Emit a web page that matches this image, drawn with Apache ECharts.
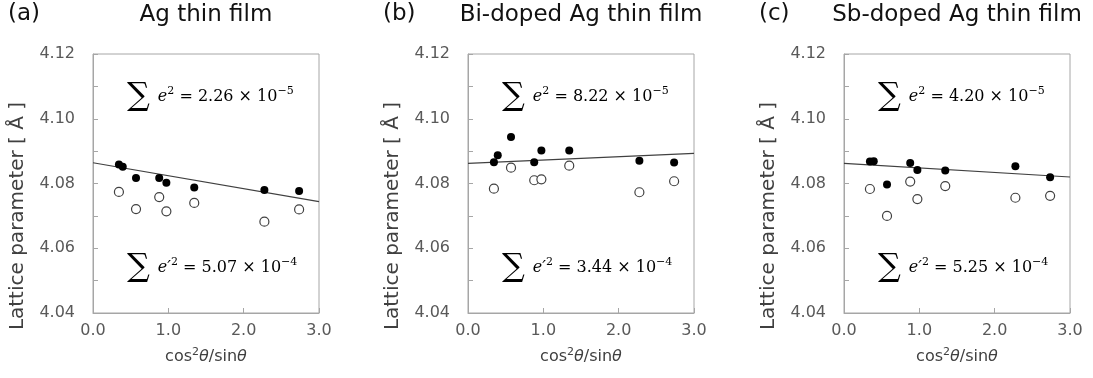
<!DOCTYPE html>
<html>
<head>
<meta charset="utf-8">
<script src="https://cdn.jsdelivr.net/npm/echarts@6/dist/echarts.min.js"></script>
<style>
  html, body { margin: 0; padding: 0; background: #fff; }
  #chart { width: 1093px; height: 378px; }
</style>
</head>
<body>
<div id="chart"></div>
<script>
// cos^2(theta)/sin(theta) of the Ag reflections
const xFilled = [0.344, 0.395, 0.571, 0.879, 0.974, 1.344, 2.275, 2.736]
const xOpen = [0.344, 0.571, 0.879, 0.974, 1.344, 2.275, 2.736]
const fitX = [0, 3]

const agFilled = [4.0859, 4.0852, 4.0817, 4.0817, 4.0802, 4.0788, 4.0780, 4.0777]
const agOpen = [4.0774, 4.0721, 4.0758, 4.0714, 4.0740, 4.0682, 4.0720]
const agFit = [4.0864, 4.0744]

const biFilled = [4.0866, 4.0887, 4.0944, 4.0866, 4.0902, 4.0902, 4.0870, 4.0865]
const biOpen = [4.0784, 4.0849, 4.0810, 4.0813, 4.0855, 4.0773, 4.0807]
const biFit = [4.0862, 4.0893]

const sbFilled = [4.0868, 4.0869, 4.0797, 4.0863, 4.0842, 4.0840, 4.0853, 4.0819]
const sbOpen = [4.0783, 4.0700, 4.0806, 4.0752, 4.0792, 4.0756, 4.0762]
const sbFit = [4.0862, 4.0820]

const panelTags = ['(a)', '(b)', '(c)']
const panelTitles = ['Ag thin film', 'Bi-doped Ag thin film', 'Sb-doped Ag thin film']
const errUpper = [['2.26', '−5'], ['8.22', '−5'], ['4.20', '−5']]
const errLower = [['5.07', '−4'], ['3.44', '−4'], ['5.25', '−4']]

const filledSets = [agFilled, biFilled, sbFilled]
const openSets = [agOpen, biOpen, sbOpen]
const fitSets = [agFit, biFit, sbFit]

const gridLefts = [93, 468, 844]
const gridW = 226
const gridTop = 54
const gridH = 259
const frame = '#a6a6a6'
const sans = 'DejaVu Sans'
const serif = 'DejaVu Serif'

const zip = (xs, ys) => xs.map((x, i) => [x, ys[i]])

const grids = [], xAxes = [], yAxes = [], series = [], graphics = []

gridLefts.forEach((left, i) => {
  grids.push({
    left: left, top: gridTop, width: gridW, height: gridH,
    show: true, borderColor: frame, borderWidth: 1, outerBoundsMode: 'none'
  })
  xAxes.push({
    gridIndex: i, type: 'value', min: 0, max: 3, interval: 1,
    axisLine: { lineStyle: { color: frame } },
    axisTick: { inside: true, length: 5, lineStyle: { color: frame } },
    splitLine: { show: false },
    axisLabel: { color: '#595959', fontFamily: sans, fontSize: 16, margin: 10, formatter: (v) => v.toFixed(1) },
    name: '{n|cos}{s|2}{i|θ}{n|/sin}{i|θ}',
    nameLocation: 'middle', nameGap: 34,
    nameTextStyle: {
      rich: {
        n: { fontFamily: sans, fontSize: 16, color: '#404040' },
        i: { fontFamily: sans, fontSize: 16, fontStyle: 'italic', color: '#404040' },
        s: { fontFamily: sans, fontSize: 11, color: '#404040', padding: [0, 0, 8, 0] }
      }
    }
  })
  yAxes.push({
    gridIndex: i, type: 'value', min: 4.04, max: 4.12, interval: 0.01,
    axisLine: { show: true, lineStyle: { color: frame } },
    axisTick: { show: true, inside: true, length: 5, lineStyle: { color: frame } },
    splitLine: { show: false },
    axisLabel: {
      color: '#595959', fontFamily: sans, fontSize: 16, margin: 18,
      formatter: (v) => (Math.round(v * 100) % 2 === 0 ? v.toFixed(2) : '')
    }
  })

  series.push({
    type: 'line', xAxisIndex: i, yAxisIndex: i, z: 1,
    data: zip(fitX, fitSets[i]), symbol: 'none', silent: true,
    lineStyle: { color: '#404040', width: 1.2 }
  })
  series.push({
    type: 'scatter', xAxisIndex: i, yAxisIndex: i, z: 3,
    data: zip(xOpen, openSets[i]), symbol: 'circle', symbolSize: 9,
    itemStyle: { color: '#fff', borderColor: '#404040', borderWidth: 1.2, opacity: 1 }
  })
  series.push({
    type: 'scatter', xAxisIndex: i, yAxisIndex: i, z: 4,
    data: zip(xFilled, filledSets[i]), symbol: 'circle', symbolSize: 8,
    itemStyle: { color: '#000', opacity: 1 }
  })

  // panel tag and title
  graphics.push({
    type: 'text', left: left - 85, top: 3,
    style: { text: panelTags[i], font: '23px "DejaVu Sans"', fill: '#111' }
  })
  graphics.push({
    type: 'text', x: left + gridW / 2, y: 15,
    style: { text: panelTitles[i], font: '23px "DejaVu Sans"', fill: '#111', align: 'center', verticalAlign: 'middle' }
  })
  // y axis name
  graphics.push({
    type: 'text', x: left - 75, y: 216, rotation: Math.PI / 2,
    style: { text: 'Lattice parameter [ Å ]', font: '20px "DejaVu Sans"', fill: '#404040', align: 'center', verticalAlign: 'middle' }
  })
  // sum of squared errors
  const rich = {
    sig: { fontFamily: serif, fontSize: 32, color: '#111', padding: [0, 8, 0, 0] },
    e: { fontFamily: serif, fontSize: 16, fontStyle: 'italic', color: '#404040' },
    t: { fontFamily: serif, fontSize: 16, color: '#404040' },
    sup: { fontFamily: serif, fontSize: 11, color: '#404040', padding: [0, 0, 12, 0] }
  }
  graphics.push({
    type: 'text', x: left + 34, y: 97,
    style: {
      text: '{sig|∑}{e|e}{sup|2}{t| = ' + errUpper[i][0] + ' × 10}{sup|' + errUpper[i][1] + '}',
      rich: rich, verticalAlign: 'middle'
    }
  })
  graphics.push({
    type: 'text', x: left + 34, y: 268,
    style: {
      text: '{sig|∑}{e|e′}{sup|2}{t| = ' + errLower[i][0] + ' × 10}{sup|' + errLower[i][1] + '}',
      rich: rich, verticalAlign: 'middle'
    }
  })
})

const chart = echarts.init(document.getElementById('chart'))
chart.setOption({
  animation: false,
  grid: grids,
  xAxis: xAxes,
  yAxis: yAxes,
  series: series,
  graphic: graphics
})
</script>
</body>
</html>
